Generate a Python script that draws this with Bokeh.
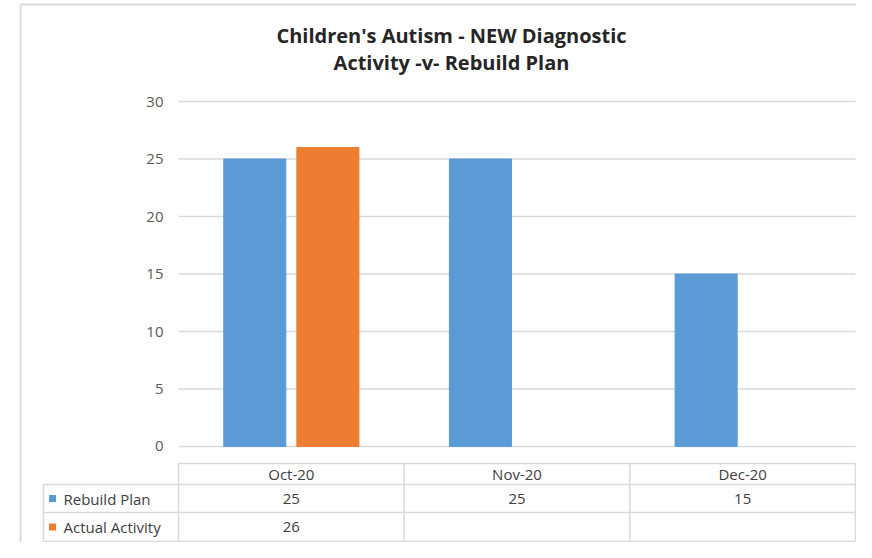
from bokeh.plotting import figure
from bokeh.models import Range1d, FixedTicker
from bokeh.embed import file_html
from bokeh.resources import INLINE
from bokeh.core.properties import value

# ---- data ----
months = ["Oct-20", "Nov-20", "Dec-20"]
rebuild_plan = [25, 25, 15]
actual_activity = [26, None, None]
y_ticks = [0, 5, 10, 15, 20, 25, 30]
series_names = ["Rebuild Plan", "Actual Activity"]
series_colors = ["#5B9BD5", "#ED7D31"]
title_lines = ["Children's Autism - NEW Diagnostic", "Activity -v- Rebuild Plan"]

# ---- layout constants ----
W, H = 856, 542
FONT = "Open Sans"
GRID = "#d9d9d9"
idx = list(range(len(months)))
n = len(months)

p = figure(width=W, height=H, output_backend="svg", toolbar_location=None,
           x_range=Range1d(-1.2445, 2.5044), y_range=Range1d(-8.348, 38.783),
           x_axis_location=None, min_border_left=10, min_border_right=0,
           min_border_top=0, min_border_bottom=0)
p.outline_line_color = None
p.xgrid.visible = False
p.ygrid.visible = False
p.background_fill_color = "white"
p.border_fill_color = "white"

# table / title coordinate system (pixel rows relative to table top)
p.extra_y_ranges = {"tbl": Range1d(start=79, end=-463)}

# y axis
ax = p.yaxis[0]
ax.ticker = FixedTicker(ticks=y_ticks)
ax.axis_line_color = None
ax.major_tick_line_color = None
ax.minor_tick_line_color = None
ax.major_tick_out = 0
ax.major_tick_in = 0
ax.major_label_standoff = -153
ax.major_label_text_font = FONT
ax.major_label_text_font_size = "15px"
ax.major_label_text_color = "#595959"

# gridlines
p.segment(x0=[-0.5] * len(y_ticks), x1=[n - 0.5] * len(y_ticks), y0=y_ticks, y1=y_ticks,
          line_color=GRID, line_width=1.5)

# bars
off, bw = 0.162, 0.275
p.vbar(x=[i - off for i in idx], top=rebuild_plan, bottom=0, width=bw,
       fill_color=series_colors[0], line_color=series_colors[0])
act_idx = [i for i, v in zip(idx, actual_activity) if v is not None]
act_val = [v for v in actual_activity if v is not None]
p.vbar(x=[i + off for i in act_idx], top=act_val, bottom=0, width=bw,
       fill_color=series_colors[1], line_color=series_colors[1])

# title
title_x = 0.7097
p.text(x=[title_x] * 2, y=[-428, -401], text=title_lines, y_range_name="tbl",
       text_font=value(FONT), text_font_size="20px", text_font_style="bold",
       text_color="#262626", text_align="center", text_baseline="middle")

# data table
label_left = -1.0982
row_edges = [0, 21, 49, 78]
row_mid = [(row_edges[k] + row_edges[k + 1]) / 2 for k in range(3)]
col_edges = [i - 0.5 for i in idx] + [n - 0.5]

p.segment(x0=col_edges, x1=col_edges, y0=[row_edges[0]] * len(col_edges),
          y1=[row_edges[-1]] * len(col_edges), y_range_name="tbl",
          line_color=GRID, line_width=1.5)
p.segment(x0=[label_left], x1=[label_left], y0=[row_edges[1]], y1=[row_edges[-1]],
          y_range_name="tbl", line_color=GRID, line_width=1.5)
p.segment(x0=[-0.5] + [label_left] * 3, x1=[n - 0.5] * 4, y0=row_edges, y1=row_edges,
          y_range_name="tbl", line_color=GRID, line_width=1.5)

tstyle = dict(y_range_name="tbl", text_font=value(FONT), text_font_size="15px",
              text_color="#404040", text_baseline="middle")
p.text(x=idx, y=[row_mid[0]] * n, text=months, text_align="center", **tstyle)
p.text(x=idx, y=[row_mid[1]] * n, text=[str(v) for v in rebuild_plan],
       text_align="center", **tstyle)
p.text(x=act_idx, y=[row_mid[2]] * len(act_val), text=[str(v) for v in act_val],
       text_align="center", **tstyle)
p.text(x=[label_left + 0.0886] * 2, y=row_mid[1:], text=series_names,
       text_align="left", **tstyle)
p.scatter(x=[label_left + 0.040] * 2, y=row_mid[1:], marker="square", size=7,
          fill_color=series_colors, line_color=None, y_range_name="tbl")

# outer chart-area border (left and top)
bx = -1.2001
p.segment(x0=[bx, bx], x1=[bx, 2.5044], y0=[-459, -459], y1=[79, -459],
          y_range_name="tbl", line_color="#dcdcdc", line_width=2)

open("out.html", "w").write(file_html(p, INLINE))
